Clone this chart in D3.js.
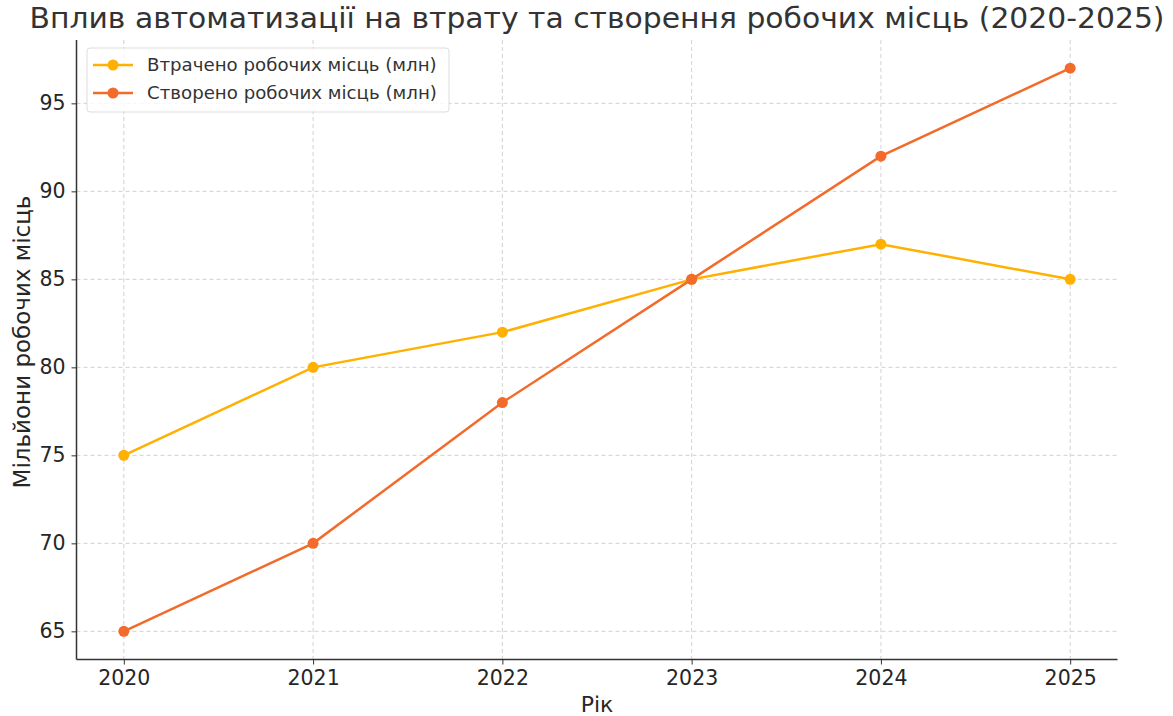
<!DOCTYPE html>
<html><head><meta charset="utf-8">
<script src="https://cdn.jsdelivr.net/npm/d3@7"></script>
<style>body{margin:0;background:#fff;} svg{display:block;font-family:"DejaVu Sans",sans-serif;}</style>
</head><body>
<svg id="c" width="1173" height="716"></svg>
<script>
const years = [2020, 2021, 2022, 2023, 2024, 2025];
const lost = [75, 80, 82, 85, 87, 85];
const created = [65, 70, 78, 85, 92, 97];
const yTicks = [65, 70, 75, 80, 85, 90, 95];
const seriesNames = ["Втрачено робочих місць (млн)", "Створено робочих місць (млн)"];
const colors = ["#FFB000", "#F26B2A"];
const title = "Вплив автоматизації на втрату та створення робочих місць (2020-2025)";

const svg = d3.select("#c");
const L = 76.5, R = 1117.5, T = 40, B = 659.5;
const x = d3.scaleLinear().domain([2019.75, 2025.25]).range([L, R]);
const y = d3.scaleLinear().domain([63.4, 98.6]).range([B, T]);

// grid
svg.append("g").selectAll("line").data(years).join("line")
  .attr("x1", d => x(d)).attr("x2", d => x(d)).attr("y1", T).attr("y2", B)
  .attr("stroke", "#cccccc").attr("stroke-dasharray", "4,3").attr("stroke-width", 0.9);
svg.append("g").selectAll("line").data(yTicks).join("line")
  .attr("y1", d => y(d)).attr("y2", d => y(d)).attr("x1", L).attr("x2", R)
  .attr("stroke", "#cccccc").attr("stroke-dasharray", "4,3").attr("stroke-width", 0.9);

// axes
const xa = svg.append("g").attr("transform", `translate(0,${B})`)
  .call(d3.axisBottom(x).tickValues(years).tickFormat(d3.format("d")).tickSize(5).tickPadding(6));
const ya = svg.append("g").attr("transform", `translate(${L},0)`)
  .call(d3.axisLeft(y).tickValues(yTicks).tickSize(5).tickPadding(6));
[xa, ya].forEach(a => {
  a.select(".domain").remove();
  a.selectAll(".tick line").attr("stroke", "#333");
  a.selectAll(".tick text").attr("fill", "#262626").attr("font-size", 20.5).attr("font-family", "DejaVu Sans");
});
svg.append("line").attr("x1", L).attr("x2", L).attr("y1", T).attr("y2", B).attr("stroke", "#333").attr("stroke-width", 1.5);
svg.append("line").attr("x1", L).attr("x2", R).attr("y1", B).attr("y2", B).attr("stroke", "#333").attr("stroke-width", 1.5);

// series
const data = [lost, created];
data.forEach((vals, i) => {
  const pts = years.map((yr, j) => [yr, vals[j]]);
  svg.append("path").datum(pts)
    .attr("fill", "none").attr("stroke", colors[i]).attr("stroke-width", 2.5)
    .attr("d", d3.line().x(d => x(d[0])).y(d => y(d[1])));
  svg.append("g").selectAll("circle").data(pts).join("circle")
    .attr("cx", d => x(d[0])).attr("cy", d => y(d[1])).attr("r", 5.5).attr("fill", colors[i]);
});

// title & labels
svg.append("text").attr("x", 597).attr("y", 28).attr("text-anchor", "middle")
  .attr("font-size", 28).attr("fill", "#333").attr("textLength", 1135).attr("lengthAdjust", "spacingAndGlyphs").text(title);
svg.append("text").attr("x", 597).attr("y", 712).attr("text-anchor", "middle")
  .attr("font-size", 22).attr("fill", "#262626").text("Рік");
svg.append("text").attr("transform", `translate(30,342) rotate(-90)`).attr("text-anchor", "middle")
  .attr("font-size", 23).attr("fill", "#262626").text("Мільйони робочих місць");

// legend
const lg = svg.append("g");
lg.append("rect").attr("x", 87).attr("y", 48).attr("width", 362).attr("height", 64).attr("rx", 3)
  .attr("fill", "#fff").attr("fill-opacity", 0.8).attr("stroke", "#dddddd");
seriesNames.forEach((n, i) => {
  const yy = 65 + i * 28;
  lg.append("line").attr("x1", 93).attr("x2", 133).attr("y1", yy).attr("y2", yy).attr("stroke", colors[i]).attr("stroke-width", 2.5);
  lg.append("circle").attr("cx", 113).attr("cy", yy).attr("r", 5.5).attr("fill", colors[i]);
  lg.append("text").attr("x", 147).attr("y", yy + 6).attr("font-size", 18.2).attr("fill", "#333").text(n);
});
</script>
</body></html>
